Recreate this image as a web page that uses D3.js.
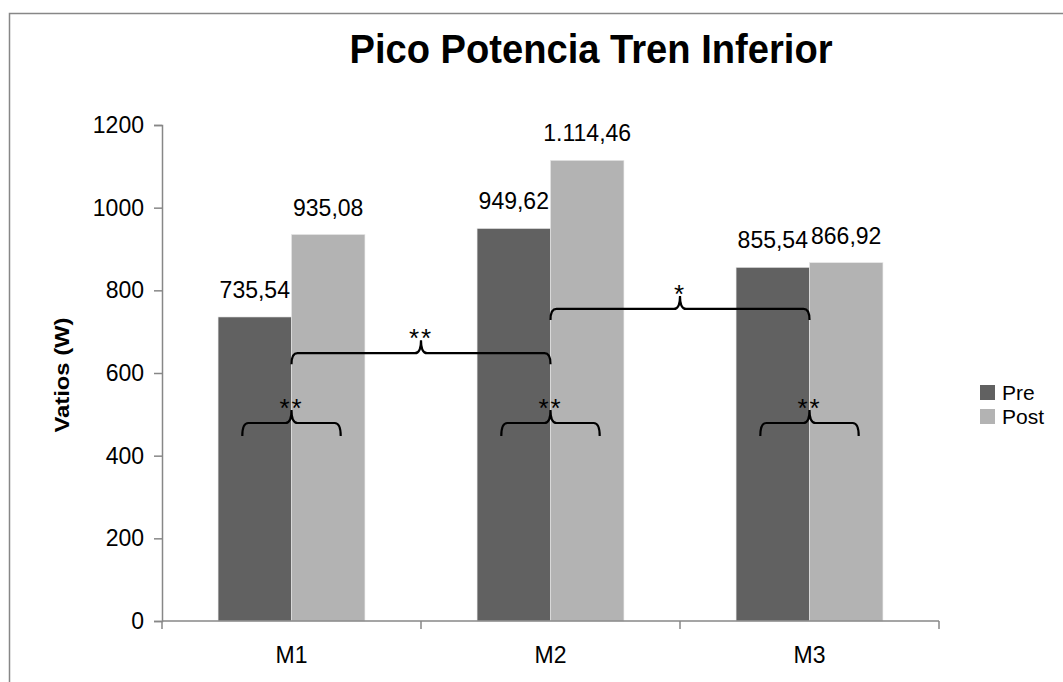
<!DOCTYPE html>
<html>
<head>
<meta charset="utf-8">
<script src="https://cdn.jsdelivr.net/npm/d3@7/dist/d3.min.js"></script>
<style>
  html, body { margin: 0; padding: 0; background: #fff; }
  svg { display: block; }
  text { font-family: "Liberation Sans", "Noto Sans", Arial, sans-serif; fill: #000; }
</style>
</head>
<body>
<svg id="chart" width="1063" height="682"></svg>
<script>
// Peak lower-body power, pre vs post, per measurement block
const categories = ["M1", "M2", "M3"];
const seriesNames = ["Pre", "Post"];
const preValues = [735.54, 949.62, 855.54];
const postValues = [935.08, 1114.46, 866.92];
const yTicks = [0, 200, 400, 600, 800, 1000, 1200];
const seriesColors = ["#616161", "#b3b3b3"];

// Significance brackets: same category = Pre vs Post; otherwise between categories
const bracketFrom = ["M1", "M2", "M3", "M1", "M2"];
const bracketTo   = ["M1", "M2", "M3", "M2", "M3"];
const bracketLevel = [479, 479, 479, 648, 755];
const bracketLabel = ["**", "**", "**", "**", "*"];

(function () {
const svg = d3.select("#chart");
const W = 1063, H = 682;
const plotLeft = 162, plotRight = 939, plotTop = 125, plotBottom = 621;
const fs = 23;

svg.append("rect").attr("x", 0).attr("y", 0).attr("width", W).attr("height", H).attr("fill", "#fff");
// chart frame
svg.append("rect").attr("x", 9.5).attr("y", 13.5).attr("width", W + 20).attr("height", H + 20)
  .attr("fill", "none").attr("stroke", "#878787").attr("stroke-width", 1.5);

const y = d3.scaleLinear().domain([0, 1200]).range([plotBottom, plotTop]);
const x = d3.scaleBand().domain(categories).range([plotLeft, plotRight]).paddingInner(0).paddingOuter(0);
const groupW = x.bandwidth() * 0.567;
const x1 = d3.scaleBand().domain(seriesNames)
  .range([(x.bandwidth() - groupW) / 2, (x.bandwidth() + groupW) / 2]).padding(0);

const rows = categories.map((c, i) => ({ cat: c, values: [preValues[i], postValues[i]] }));

// bars
const groups = svg.append("g").selectAll("g").data(rows).join("g")
  .attr("transform", d => `translate(${x(d.cat)},0)`);
groups.selectAll("rect").data(d => d.values.map((v, j) => ({ s: seriesNames[j], v, j })))
  .join("rect")
  .attr("x", d => x1(d.s))
  .attr("y", d => y(d.v))
  .attr("width", x1.bandwidth())
  .attr("height", d => y(0) - y(d.v))
  .attr("fill", d => seriesColors[d.j])
  .attr("stroke", "#e6e6e6").attr("stroke-width", 0.6);

// value labels
const fmt = d3.formatLocale({ decimal: ",", thousands: ".", grouping: [3], currency: ["", ""] }).format(",.2f");
groups.selectAll("text.val").data(d => d.values.map((v, j) => ({ s: seriesNames[j], v })))
  .join("text").attr("class", "val")
  .attr("x", d => x1(d.s) + x1.bandwidth() / 2)
  .attr("y", d => y(d.v) - 19)
  .attr("text-anchor", "middle")
  .attr("font-size", fs)
  .text(d => fmt(d.v));

// y axis
const yAxis = d3.axisLeft(y).tickValues(yTicks).tickSize(8).tickPadding(10).tickFormat(d3.format("d"));
const gy = svg.append("g").attr("transform", `translate(${plotLeft},0)`).call(yAxis);
gy.select(".domain").attr("stroke", "#878787").attr("stroke-width", 1.5);
gy.selectAll(".tick line").attr("stroke", "#878787").attr("stroke-width", 1.5);
gy.selectAll(".tick text").attr("font-size", fs).attr("font-family", "Liberation Sans, Noto Sans, sans-serif").attr("fill", "#000");

// x axis with ticks at category boundaries
svg.append("line").attr("x1", plotLeft).attr("x2", plotRight).attr("y1", plotBottom).attr("y2", plotBottom)
  .attr("stroke", "#878787").attr("stroke-width", 1.5);
const bounds = categories.map(c => x(c)).concat([x(categories[categories.length - 1]) + x.bandwidth()]);
svg.append("g").selectAll("line").data(bounds).join("line")
  .attr("x1", d => d).attr("x2", d => d).attr("y1", plotBottom).attr("y2", plotBottom + 8)
  .attr("stroke", "#878787").attr("stroke-width", 1.5);
svg.append("g").selectAll("text").data(categories).join("text")
  .attr("x", d => x(d) + x.bandwidth() / 2).attr("y", 663)
  .attr("text-anchor", "middle").attr("font-size", fs).text(d => d);

// title
svg.append("text").attr("x", 591).attr("y", 63).attr("text-anchor", "middle")
  .attr("font-size", 40).attr("font-weight", "bold")
  .attr("textLength", 483).attr("lengthAdjust", "spacingAndGlyphs")
  .text("Pico Potencia Tren Inferior");

// y axis title
svg.append("text").attr("transform", "translate(69,375) rotate(-90)")
  .attr("text-anchor", "middle").attr("font-size", 20).attr("font-weight", "bold")
  .attr("textLength", 115).attr("lengthAdjust", "spacingAndGlyphs")
  .text("Vatios (W)");

// legend
const lg = svg.append("g").selectAll("g").data(seriesNames).join("g")
  .attr("transform", (d, i) => `translate(980,${385 + i * 24})`);
lg.append("rect").attr("width", 15).attr("height", 15).attr("fill", (d, i) => seriesColors[i]);
lg.append("text").attr("x", 22).attr("y", 15).attr("font-size", 21).text(d => d);

// significance brackets (curly braces)
function bracePath(x1p, x2p, yl, drop, tip) {
  const xc = (x1p + x2p) / 2, r = 6;
  return `M${x1p},${yl + drop} Q${x1p},${yl} ${x1p + r},${yl} L${xc - r},${yl} ` +
         `Q${xc},${yl} ${xc},${yl - tip} Q${xc},${yl} ${xc + r},${yl} ` +
         `L${x2p - r},${yl} Q${x2p},${yl} ${x2p},${yl + drop}`;
}
const bw = x1.bandwidth();
const br = bracketFrom.map((a, i) => {
  const b = bracketTo[i];
  let xa, xb;
  if (a === b) {
    const c = x(a) + x.bandwidth() / 2;
    xa = c - bw * 0.67; xb = c + bw * 0.67;
  } else {
    xa = x(a) + x.bandwidth() / 2; xb = x(b) + x.bandwidth() / 2;
  }
  return { xa, xb, level: bracketLevel[i], label: bracketLabel[i], same: a === b };
});
const bg = svg.append("g");
bg.selectAll("path").data(br).join("path")
  .attr("d", d => bracePath(d.xa, d.xb, y(d.level), d.same ? 13 : 11, 13))
  .attr("fill", "none").attr("stroke", "#000").attr("stroke-width", 2.2);
bg.selectAll("text").data(br).join("text")
  .attr("x", d => (d.xa + d.xb) / 2).attr("y", d => y(d.level) - 6)
  .attr("text-anchor", "middle").attr("font-size", 26).attr("letter-spacing", 2)
  .text(d => d.label);
})();
</script>
</body>
</html>
